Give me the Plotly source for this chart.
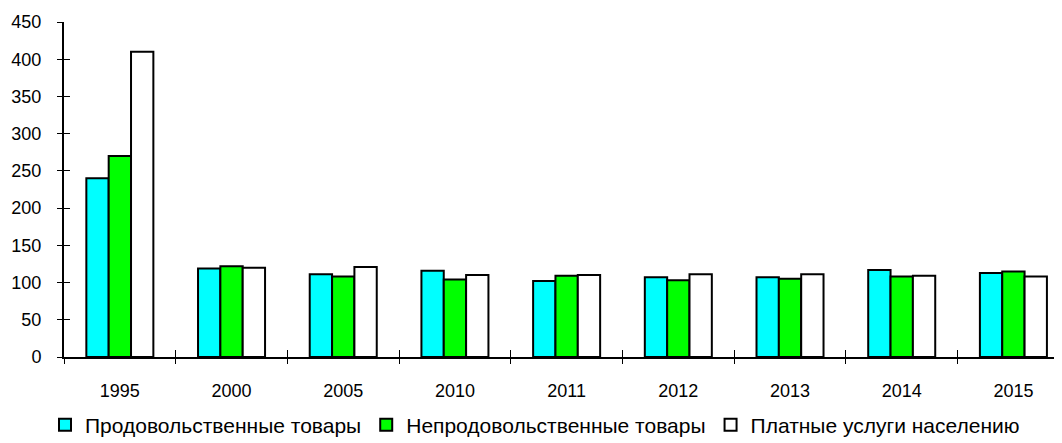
import plotly.graph_objects as go

years = ["1995", "2000", "2005", "2010", "2011", "2012", "2013", "2014", "2015"]
food = [240, 119, 111, 116, 102, 107, 107, 117, 113]
nonfood = [270, 122, 108, 104, 109, 103, 105, 108, 115]
services = [410, 120, 121, 110, 110, 111, 111, 109, 108]
names = ["Продовольственные товары", "Непродовольственные товары", "Платные услуги населению"]
colors = ["#00FFFF", "#00FF00", "#FFFFFF"]
y_ticks = [0, 50, 100, 150, 200, 250, 300, 350, 400, 450]

fig = go.Figure()
for name, vals, col in zip(names, [food, nonfood, services], colors):
    fig.add_trace(go.Bar(x=years, y=vals, name=name,
                         marker=dict(color=col, line=dict(color="black", width=2))))
# invisible helper trace so the overlay axes (inner tick halves) get the categories
fig.add_trace(go.Scatter(x=years, y=[None] * len(years), xaxis="x2", yaxis="y2",
                         showlegend=False, hoverinfo="skip", mode="markers"))

fam = "Liberation Sans, Arial, sans-serif"
tickfont = dict(family=fam, size=18, color="black")
xr = [-0.5, 8.435]
fig.update_layout(
    width=1054, height=435,
    margin=dict(l=56, r=0, t=14, b=86, autoexpand=False),
    paper_bgcolor="white", plot_bgcolor="white",
    barmode="group", bargap=0.4, bargroupgap=0,
    font=dict(family=fam, size=18, color="black"),
    showlegend=True,
    legend=dict(orientation="h", xref="container", yref="container",
                x=0.5, xanchor="center", y=0.041, yanchor="middle",
                font=dict(family=fam, size=21, color="black"),
                itemwidth=30, tracegroupgap=0),
    xaxis=dict(type="category", range=xr, showline=True, linecolor="black", linewidth=2,
               ticks="outside", ticklen=5, tickwidth=1, tickcolor="black", tickson="boundaries",
               showgrid=False, zeroline=False, ticklabelstandoff=16, tickfont=tickfont,
               automargin=False),
    yaxis=dict(range=[0, 450], tickvals=y_ticks, showline=True, linecolor="black", linewidth=2,
               ticks="outside", ticklen=5, tickwidth=1, tickcolor="black", tickfont=tickfont,
               showgrid=False, zeroline=False, automargin=False, ticklabelstandoff=12),
    xaxis2=dict(type="category", overlaying="x", anchor="y2", range=xr,
                categoryorder="array", categoryarray=years,
                ticks="inside", ticklen=7, tickwidth=1, tickcolor="black", tickson="boundaries",
                showticklabels=False, showline=False, showgrid=False, zeroline=False,
                automargin=False),
    yaxis2=dict(overlaying="y", anchor="x2", side="left", range=[0, 450], tickvals=y_ticks,
                ticks="inside", ticklen=6, tickwidth=1, tickcolor="black",
                showticklabels=False, showline=False, showgrid=False, zeroline=False,
                automargin=False),
)
fig.write_html("out.html")
